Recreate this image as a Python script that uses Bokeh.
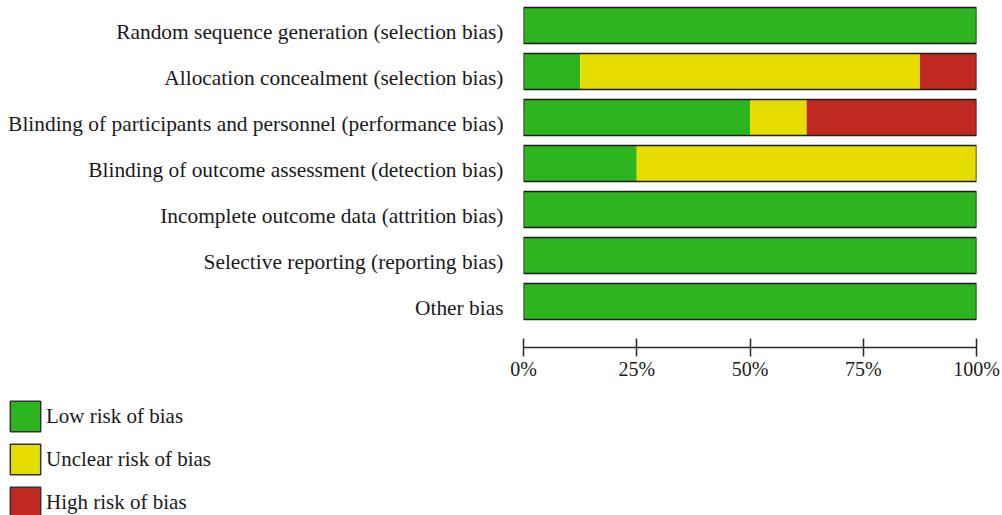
from bokeh.plotting import figure
from bokeh.layouts import column
from bokeh.models import (ColumnDataSource, Range1d, FixedTicker, PrintfTickFormatter,
                          Legend, LegendItem)
from bokeh.embed import file_html
from bokeh.resources import INLINE

# ---- data ----
domains = [
    "Random sequence generation (selection bias)",
    "Allocation concealment (selection bias)",
    "Blinding of participants and personnel (performance bias)",
    "Blinding of outcome assessment (detection bias)",
    "Incomplete outcome data (attrition bias)",
    "Selective reporting (reporting bias)",
    "Other bias",
]
low_risk = [100, 12.5, 50, 25, 100, 100, 100]
unclear_risk = [0, 75, 12.5, 75, 0, 0, 0]
high_risk = [0, 12.5, 37.5, 0, 0, 0, 0]
risk_names = ["Low risk of bias", "Unclear risk of bias", "High risk of bias"]
risk_colors = ["#2DB51F", "#E6DD00", "#C0291F"]
x_ticks = [0, 25, 50, 75, 100]

FONT = "Liberation Serif"
n = len(domains)
label_pos = [n - 1 - i for i in range(n)]          # y-axis tick positions (top row highest)
bar_pos = [v + 0.14 for v in label_pos]           # bars sit slightly above their label line
totals = [a + b + c for a, b, c in zip(low_risk, unclear_risk, high_risk)]

source = ColumnDataSource(dict(y=bar_pos, low=low_risk, unclear=unclear_risk,
                               high=high_risk, total=totals))

W = 1000
p = figure(width=W, height=390, output_backend="svg", toolbar_location=None,
           x_range=Range1d(0, 100), y_range=Range1d(-0.86, 6.683),
           min_border_left=523, min_border_right=W - 976, min_border_top=0,
           min_border_bottom=43)
p.outline_line_color = None
p.grid.visible = False

p.hbar_stack(["low", "unclear", "high"], y="y", height=0.78, color=risk_colors,
             line_color=None, source=source)
p.hbar(y="y", left=0, right="total", height=0.78, fill_color=None,
       line_color="#1e1e1e", line_width=1.5, source=source)

# x axis
xa = p.xaxis[0]
xa.ticker = FixedTicker(ticks=x_ticks)
xa.formatter = PrintfTickFormatter(format="%d%%")
xa.axis_line_color = "#2a2a2a"
xa.axis_line_width = 1.5
xa.major_tick_line_color = "#2a2a2a"
xa.major_tick_line_width = 1.5
xa.major_tick_in = 9
xa.major_tick_out = 9
xa.minor_tick_line_color = None
xa.major_label_standoff = 1
xa.major_label_text_font = FONT
xa.major_label_text_font_size = "20px"
xa.major_label_text_color = "#1a1a1a"

# y axis (domain labels)
ya = p.yaxis[0]
ya.ticker = FixedTicker(ticks=label_pos)
ya.major_label_overrides = {pos: name for pos, name in zip(label_pos, domains)}
ya.axis_line_color = None
ya.major_tick_line_color = None
ya.minor_tick_line_color = None
ya.major_tick_in = 0
ya.major_tick_out = 0
ya.major_label_standoff = 20
ya.major_label_text_font = FONT
ya.major_label_text_font_size = "21.4px"
ya.major_label_text_color = "#1a1a1a"

# ---- legend panel ----
p2 = figure(width=W, height=125, output_backend="svg", toolbar_location=None,
            x_range=Range1d(0, 1), y_range=Range1d(0, 1),
            min_border_left=0, min_border_right=0, min_border_top=0, min_border_bottom=0)
p2.axis.visible = False
p2.grid.visible = False
p2.outline_line_color = None

legend_x = 6
try:
    p.frame_align = False
    p2.frame_align = False
except AttributeError:
    legend_x = 6 - 523

nan = float("nan")
legend_items = []
for name, col in zip(risk_names, risk_colors):
    proxy = ColumnDataSource(dict(y=[nan], left=[nan], right=[nan]))
    r = p2.hbar(y="y", left="left", right="right", height=0.5, fill_color=col,
                line_color="#333333", line_width=1.5, source=proxy)
    legend_items.append(LegendItem(label=name, renderers=[r]))

legend = Legend(items=legend_items, location=(legend_x, -6), orientation="vertical",
                glyph_width=38, glyph_height=38, label_standoff=2, spacing=5,
                padding=0, margin=0, border_line_color=None, background_fill_alpha=0,
                label_text_font=FONT, label_text_font_size="21px",
                label_text_color="#1a1a1a")
p2.add_layout(legend)

layout = column(p, p2, spacing=0)
open("out.html", "w").write(file_html(layout, INLINE))
